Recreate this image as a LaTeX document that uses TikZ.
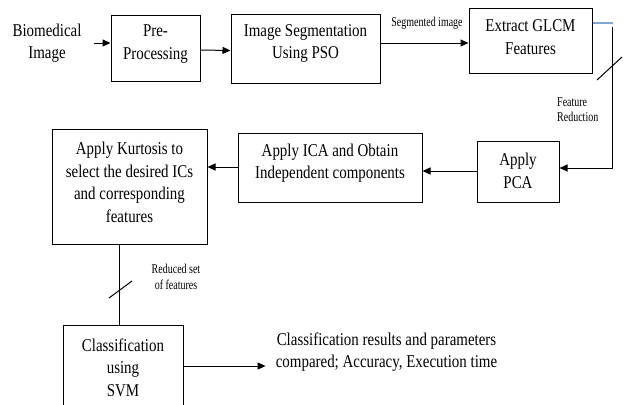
\documentclass[tikz,border=0pt]{standalone}
\usepackage{fontspec}
\setmainfont{Liberation Serif}[FakeStretch=0.83]
\newfontfamily\smallserif{Liberation Serif}[FakeStretch=0.74]
\usetikzlibrary{arrows.meta}
\definecolor{lineblue}{RGB}{130,165,210}
\tikzset{
  box/.style={draw, line width=1pt, inner sep=0pt},
  txt/.style={align=center, inner sep=0pt, font=\fontsize{18}{22.5}\selectfont},
  smalltxt/.style={inner sep=0pt, font=\smallserif\fontsize{13.5}{15.5}\selectfont},
  arr/.style={line width=1pt, -{Triangle[length=8pt,width=7pt]}},
  plain/.style={line width=1pt},
}
\begin{document}
\begin{tikzpicture}[x=1pt,y=-1pt]
\useasboundingbox (0,0) rectangle (625,405);
\clip (0,0) rectangle (625,405);
% boxes
\node[box, minimum width=89pt, minimum height=66pt] (pre) at (155.5,48) {};
\node[box, minimum width=149pt, minimum height=69pt] (seg) at (305.5,48.5) {};
\node[box, minimum width=123pt, minimum height=65pt] (glcm) at (530.5,40.5) {};
\node[box, minimum width=82pt, minimum height=61pt] (pca) at (518,171.5) {};
\node[box, minimum width=184pt, minimum height=69pt] (ica) at (330,167.5) {};
\node[box, minimum width=155pt, minimum height=115pt] (kurt) at (129.5,186.5) {};
\node[box, minimum width=120pt, minimum height=95pt] (svm) at (123,372.5) {};
% texts
\node[txt] (bio) at (47,43) {Biomedical\\Image};
\node[txt] (preT) at (155.5,44) {Pre-\\Processing};
\node[txt] (segT) at (305.5,43.5) {Image Segmentation\\Using PSO};
\node[txt] (glcmT) at (530.5,37) {Extract GLCM\\Features};
\node[txt] (pcaT) at (518,171) {Apply\\PCA};
\node[txt] (icaT) at (330,163) {Apply ICA and Obtain\\Independent components};
\node[txt] (kurtT) at (129.5,182.5) {Apply Kurtosis to\\select the desired ICs\\and corresponding\\features};
\node[txt] (svmT) at (123,367.5) {Classification\\using\\SVM};
\node[txt] (res) at (386.5,352) {Classification results and parameters\\compared; Accuracy, Execution time};
\node[smalltxt] (segL) at (427,23) {Segmented image};
\node[smalltxt, align=left, anchor=west] (frL) at (557,109.5) {Feature\\Reduction};
\node[smalltxt, align=center] (rsL) at (176,277) {Reduced set\\of features};
% coordinates
\coordinate (c1) at (613,23);
\coordinate (c2) at (612,27);
\coordinate (c3) at (612,168);
\coordinate (s1) at (597,80);
\coordinate (s2) at (622,57);
\coordinate (s3) at (109,298);
\coordinate (s4) at (132,281);
% connectors
\draw[arr] ([xshift=12pt]bio.east |- 0,43) -- (pre.west |- 0,43);
\draw[arr] ([yshift=-2pt]pre.east) -- ([yshift=-2pt]seg.west);
\draw[arr] ([yshift=5.5pt]seg.east) -- ([yshift=5.5pt]seg.east -| glcm.west);
\draw[lineblue, line width=1.3pt] ([yshift=17.5pt]glcm.east) -- (c1);
\draw[arr] (c2) -- (c3) -- (c3 -| pca.east);
\draw[plain] (s1) -- (s2);
\draw[arr] ([yshift=0.5pt]pca.west) -- ([yshift=0.5pt]pca.west -| ica.east);
\draw[arr] ([yshift=0.5pt]ica.west) -- ([yshift=0.5pt]ica.west -| kurt.east);
\draw[plain] ([xshift=-10.5pt]kurt.south) -- ([xshift=-10.5pt]kurt.south |- svm.north);
\draw[plain] (s3) -- (s4);
\draw[arr] ([yshift=6.5pt]svm.east) -- ([yshift=6.5pt, xshift=-10pt]svm.east -| res.west);
\end{tikzpicture}
\end{document}
